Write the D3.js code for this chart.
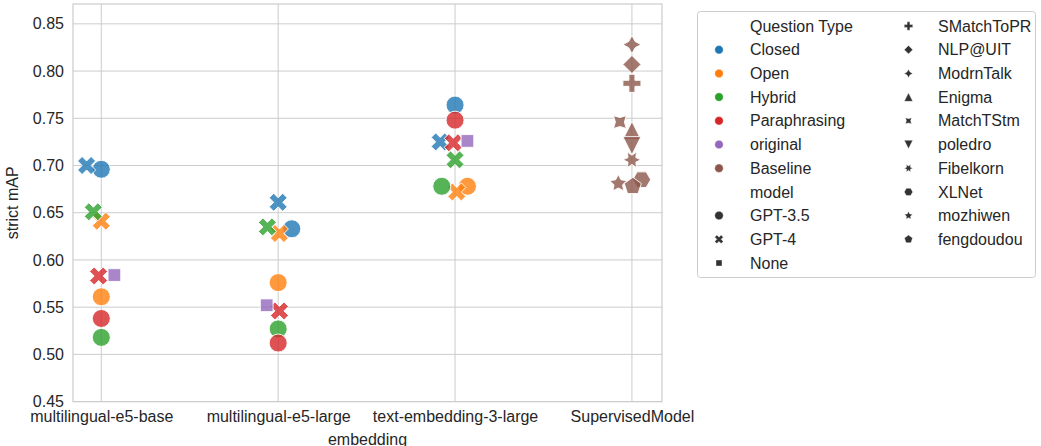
<!DOCTYPE html>
<html><head><meta charset="utf-8">
<script src="https://cdn.jsdelivr.net/npm/d3@7"></script>
<style>
html,body{margin:0;padding:0;background:#fff;}
text{font-family:"Liberation Sans",Arial,sans-serif;fill:#262626;}
</style></head>
<body><svg id="c" width="1041" height="446"></svg>
<script>
// ---------- data ----------
const embeddings = ["multilingual-e5-base","multilingual-e5-large","text-embedding-3-large","SupervisedModel"];
const questionTypes = ["Closed","Open","Hybrid","Paraphrasing","original","Baseline"];
const typeColors = ["#1f77b4","#ff7f0e","#2ca02c","#d62728","#9467bd","#8c564b"];
const models = ["GPT-3.5","GPT-4","None","SMatchToPR","NLP@UIT","ModrnTalk","Enigma","MatchTStm","poledro","Fibelkorn","XLNet","mozhiwen","fengdoudou"];
const yTicks = [0.45,0.50,0.55,0.60,0.65,0.70,0.75,0.80,0.85];

// LLM results per embedding (first three embeddings)
const gpt35Closed = [0.696, 0.633, 0.764];
const gpt35Open = [0.561, 0.576, 0.678];
const gpt35Hybrid = [0.518, 0.527, 0.678];
const gpt35Paraphrasing = [0.538, 0.512, 0.748];
const gpt4Closed = [0.700, 0.661, 0.725];
const gpt4Open = [0.641, 0.628, 0.672];
const gpt4Hybrid = [0.651, 0.635, 0.706];
const gpt4Paraphrasing = [0.583, 0.546, 0.724];
const originalNone = [0.584, 0.552, 0.726];
// horizontal jitter (in category units) as drawn in the reference
const gpt35ClosedJit = [0, 0.077, 0];
const gpt35OpenJit = [0, 0, 0.07];
const gpt35HybridJit = [0, 0, -0.075];
const gpt35ParaJit = [0, 0, 0];
const gpt4ClosedJit = [-0.083, 0, -0.084];
const gpt4OpenJit = [0, 0.007, 0.01];
const gpt4HybridJit = [-0.045, -0.061, 0];
const gpt4ParaJit = [-0.015, 0.007, -0.01];
const originalJit = [0.074, -0.065, 0.07];

// Supervised baselines
const baselineModels = ["ModrnTalk","NLP@UIT","SMatchToPR","MatchTStm","Enigma","poledro","Fibelkorn","mozhiwen","XLNet","fengdoudou"];
const baselineValues = [0.828, 0.807, 0.787, 0.746, 0.737, 0.721, 0.706, 0.681, 0.685, 0.678];
const baselineJit = [0, 0, 0, -0.068, 0, 0, 0, -0.077, 0.055, 0.005];

// ---------- build point list ----------
const pts = [];
function addSeries(vals, jit, type, model){
  vals.forEach((v,i)=>pts.push({emb:embeddings[i], type, model, v, j:jit[i]}));
}
addSeries(gpt35Closed, gpt35ClosedJit, "Closed","GPT-3.5");
addSeries(gpt4Closed, gpt4ClosedJit, "Closed","GPT-4");
addSeries(gpt35Open, gpt35OpenJit, "Open","GPT-3.5");
addSeries(gpt4Open, gpt4OpenJit, "Open","GPT-4");
addSeries(gpt35Hybrid, gpt35HybridJit, "Hybrid","GPT-3.5");
addSeries(gpt4Hybrid, gpt4HybridJit, "Hybrid","GPT-4");
addSeries(gpt35Paraphrasing, gpt35ParaJit, "Paraphrasing","GPT-3.5");
addSeries(gpt4Paraphrasing, gpt4ParaJit, "Paraphrasing","GPT-4");
addSeries(originalNone, originalJit, "original","None");
baselineModels.forEach((m,i)=>pts.push({emb:"SupervisedModel", type:"Baseline", model:m, v:baselineValues[i], j:baselineJit[i]}));

// ---------- marker shapes (matplotlib/seaborn style) ----------
const markerDefs = {
  "GPT-3.5":["circle"], "GPT-4":["X"], "None":["poly",4,45], "SMatchToPR":["P"],
  "NLP@UIT":["poly",4,0], "ModrnTalk":["star",4,0], "Enigma":["tri",1], "MatchTStm":["star",4,45],
  "poledro":["tri",-1], "Fibelkorn":["star",6,30], "XLNet":["poly",6,30], "mozhiwen":["star",5,0], "fengdoudou":["poly",5,0]
};
function pathFrom(points){ return "M"+points.map(p=>p[0].toFixed(2)+","+p[1].toFixed(2)).join("L")+"Z"; }
function markerPath(model, D){
  const def = markerDefs[model], R = D/2;
  if(def[0]==="circle"){ return `M${R},0A${R},${R} 0 1 1 ${-R},0A${R},${R} 0 1 1 ${R},0Z`; }
  if(def[0]==="X"){
    const v=[[-1,-2],[0,-1],[1,-2],[2,-1],[1,0],[2,1],[1,2],[0,1],[-1,2],[-2,1],[-1,0],[-2,-1]];
    return pathFrom(v.map(p=>[p[0]/4*D, -p[1]/4*D]));
  }
  if(def[0]==="P"){
    const v=[[-1,-3],[1,-3],[1,-1],[3,-1],[3,1],[1,1],[1,3],[-1,3],[-1,1],[-3,1],[-3,-1],[-1,-1]];
    return pathFrom(v.map(p=>[p[0]/6*D, -p[1]/6*D]));
  }
  if(def[0]==="tri"){
    const s=def[1];
    const v=[[0,1],[-1,-1],[1,-1]];
    return pathFrom(v.map(p=>[p[0]*R, -p[1]*s*R]));
  }
  if(def[0]==="poly"){
    const n=def[1], a=def[2]*Math.PI/180, v=[];
    for(let k=0;k<n;k++){ const t=Math.PI/2+a+2*Math.PI*k/n; v.push([R*Math.cos(t), -R*Math.sin(t)]); }
    return pathFrom(v);
  }
  if(def[0]==="star"){
    const n=def[1], a=def[2]*Math.PI/180, v=[];
    for(let k=0;k<2*n;k++){ const r=k%2===0?R:R*0.5; const t=Math.PI/2+a+Math.PI*k/n; v.push([r*Math.cos(t), -r*Math.sin(t)]); }
    return pathFrom(v);
  }
}

// ---------- layout ----------
const svg = d3.select("#c");
const FS = "16px";
const L=73, Rt=662, T=4, B=401.6;
const x = d3.scaleLinear().domain([-0.16, 3.17]).range([L, Rt]);
const y = d3.scaleLinear().domain([0.45, 0.871]).range([B, T]);
const catIndex = d3.scaleOrdinal().domain(embeddings).range(d3.range(embeddings.length));
const color = d3.scaleOrdinal().domain(questionTypes).range(typeColors);

// grid
const g = svg.append("g");
g.selectAll(".hg").data(yTicks).join("line")
  .attr("x1",L).attr("x2",Rt).attr("y1",d=>y(d)).attr("y2",d=>y(d))
  .attr("stroke","#cccccc").attr("stroke-width",1);
g.selectAll(".vg").data(embeddings).join("line")
  .attr("x1",d=>x(catIndex(d))).attr("x2",d=>x(catIndex(d))).attr("y1",T).attr("y2",B)
  .attr("stroke","#cccccc").attr("stroke-width",1);
g.append("rect").attr("x",L).attr("y",T).attr("width",Rt-L).attr("height",B-T)
  .attr("fill","none").attr("stroke","#cccccc").attr("stroke-width",1.2);

// axes labels
const yAxis = d3.axisLeft(y).tickValues(yTicks).tickFormat(d3.format(".2f")).tickSize(0).tickPadding(9);
const ya = svg.append("g").attr("transform",`translate(${L},0)`).call(yAxis);
ya.select(".domain").remove();
ya.selectAll("text").style("font-size",FS).style("font-family","Liberation Sans, Arial, sans-serif").attr("fill","#262626");

const xAxis = d3.axisBottom(x).tickValues(d3.range(embeddings.length)).tickFormat(i=>embeddings[i]).tickSize(0).tickPadding(9);
const xa = svg.append("g").attr("transform",`translate(0,${B})`).call(xAxis);
xa.select(".domain").remove();
xa.selectAll("text").style("font-size",FS).style("font-family","Liberation Sans, Arial, sans-serif").attr("fill","#262626");

svg.append("text").attr("transform",`translate(18,${(T+B)/2}) rotate(-90)`)
  .attr("text-anchor","middle").style("font-size",FS).text("strict mAP");
svg.append("text").attr("x",(L+Rt)/2).attr("y",445).attr("text-anchor","middle")
  .style("font-size",FS).text("embedding");

// points
svg.append("g").selectAll("path").data(pts).join("path")
  .attr("d",d=>markerPath(d.model,18))
  .attr("transform",d=>`translate(${x(catIndex(d.emb)+d.j)},${y(d.v)})`)
  .attr("fill",d=>color(d.type)).attr("fill-opacity",0.8)
  .attr("stroke","#ffffff").attr("stroke-width",0.9);

// legend
const leg = svg.append("g");
leg.append("rect").attr("x",697.5).attr("y",11.5).attr("width",338).attr("height",266).attr("rx",3)
  .attr("fill","#fff").attr("stroke","#cccccc").attr("stroke-width",1);
const entries = [{label:"Question Type"}]
  .concat(questionTypes.map(t=>({label:t, type:t})))
  .concat([{label:"model"}])
  .concat(models.map(m=>({label:m, model:m})));
const rowH = 23.7, row0 = 26, perCol = 11;
entries.forEach((e,i)=>{
  const col = i<perCol?0:1, row = i<perCol?i:i-perCol;
  const mx = col===0?719:908.5, tx = col===0?750:938;
  const yy = row0 + row*rowH;
  if(e.type){
    leg.append("path").attr("d",markerPath("GPT-3.5",8.5)).attr("transform",`translate(${mx},${yy})`)
      .attr("fill",color(e.type)).attr("stroke","#fff").attr("stroke-width",0.4);
  } else if(e.model){
    leg.append("path").attr("d",markerPath(e.model,8.5)).attr("transform",`translate(${mx},${yy})`)
      .attr("fill","#333333").attr("stroke","#fff").attr("stroke-width",0.4);
  }
  leg.append("text").attr("x",tx).attr("y",yy).attr("dy","0.35em").style("font-size",FS).text(e.label);
});
</script></body></html>
